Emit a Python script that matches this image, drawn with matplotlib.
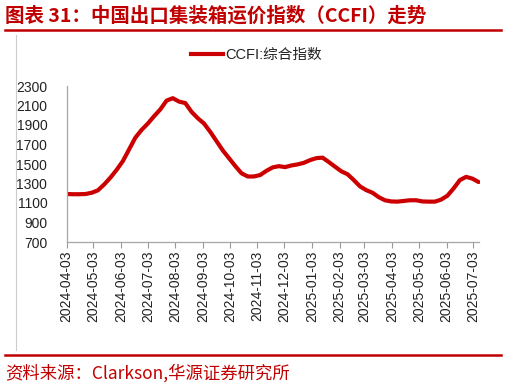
import matplotlib.pyplot as plt
import matplotlib.dates as mdates
import numpy as np
import pandas as pd
from matplotlib.lines import Line2D

plt.rcParams['font.family'] = ['Liberation Sans', 'Noto Sans CJK SC']

# weekly CCFI composite index
dates = pd.date_range("2024-04-03", periods=67, freq="7D")
ccfi = [
    1192, 1190, 1190, 1192, 1205, 1230, 1290, 1360, 1440, 1530,
    1650, 1770, 1850, 1915, 1990, 2060, 2150, 2175, 2140, 2125,
    2035, 1970, 1915, 1830, 1735, 1640, 1560, 1480, 1405, 1372,
    1372, 1387, 1430, 1465, 1478, 1468, 1485, 1496, 1512, 1540,
    1560, 1565, 1520, 1472, 1425, 1395, 1335, 1270, 1232, 1205,
    1160, 1128, 1116, 1114, 1121, 1128, 1128, 1116, 1114, 1114,
    1135, 1175, 1250, 1335, 1368, 1350, 1315,
]
tick_dates = pd.date_range("2024-04-01", "2025-07-01", freq="MS") + pd.Timedelta(days=2)
yticks = np.arange(700, 2301, 200)

red = "#C00000"
W, H = 506, 388

fig = plt.figure(figsize=(W / 100, H / 100), dpi=100)
ax = fig.add_axes([66.7 / W, (H - 242) / H, (479.5 - 66.7) / W, (242 - 86) / H])

ax.plot(dates, ccfi, color="#CC0000", lw=3.0, solid_capstyle="round", solid_joinstyle="round")

ax.set_ylim(700, 2300)
ax.set_yticks(yticks)
ax.set_xlim(dates[0], dates[-1] + pd.Timedelta(days=1))
ax.set_xticks(tick_dates)
ax.xaxis.set_major_formatter(mdates.DateFormatter("%Y-%m-%d"))
plt.setp(ax.get_xticklabels(), rotation=90, fontsize=10, color="#222222")
plt.setp(ax.get_yticklabels(), fontsize=10, color="#222222")
ax.tick_params(axis="y", length=0, pad=14)
ax.tick_params(axis="x", length=4, width=0.8, color="#999999", pad=2)

for s in ["top", "right"]:
    ax.spines[s].set_visible(False)
for s in ["left", "bottom"]:
    ax.spines[s].set_color("#A6A6A6")
    ax.spines[s].set_linewidth(0.9)

# legend above the plot
handle = Line2D([], [], color="#CC0000", lw=3.0)
fig.legend([handle], ["CCFI:综合指数"], loc="center", bbox_to_anchor=(256 / W, 1 - 55 / H),
           frameon=False, fontsize=10.5, handlelength=2.2, handletextpad=0.15,
           labelcolor="#222222")

# title, rules and source
fig.text(5 / W, 1 - 16 / H, "图表 31：中国出口集装箱运价指数（CCFI）走势", color=red,
         fontsize=14, fontweight="bold", va="center", ha="left",
         family=["Noto Sans CJK SC"])
fig.add_artist(Line2D([5 / W, 501 / W], [1 - 30 / H, 1 - 30 / H], color=red, lw=1.8))
fig.add_artist(Line2D([16 / W, 16 / W], [1 - 35 / H, 1 - 350 / H], color="#CCCCCC", lw=0.8))
fig.add_artist(Line2D([5 / W, 501 / W], [1 - 355 / H, 1 - 355 / H], color=red, lw=1.8))
fig.text(5 / W, 1 - 373 / H, "资料来源：Clarkson,华源证券研究所", color=red,
         fontsize=12.5, fontweight="light", va="center", ha="left",
         family=["Noto Sans CJK SC"])

fig.savefig("out.png", dpi=100)
